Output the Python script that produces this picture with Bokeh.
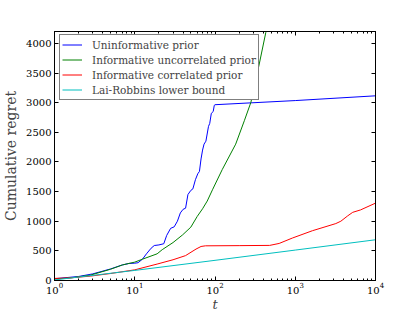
from bokeh.plotting import figure
from bokeh.models import Range1d, LinearAxis, Legend, LegendItem, FixedTicker, LogTicker, CustomJSTickFormatter
from bokeh.embed import file_html
from bokeh.resources import INLINE

# ---- data ----
t_blue = [1, 2, 3, 5, 7, 8.5, 10, 11, 12.5, 14, 16, 17.5, 20, 23, 25, 28, 31, 34, 37, 40, 43,
          46, 50, 53, 57, 61, 64, 67, 70, 73, 77, 83, 86, 90, 95, 98, 100, 1000, 10000]
v_blue = [30, 68, 112, 195, 262, 288, 292, 300, 361, 450, 545, 590, 600, 620, 760, 880, 905,
          1000, 1140, 1200, 1220, 1450, 1520, 1545, 1700, 1800, 1840, 2050, 2200, 2300, 2350,
          2600, 2650, 2820, 2850, 2955, 2965, 3035, 3115]

t_green = [1, 1.6, 2.8, 5, 7, 10, 12.5, 19, 22, 30, 39.5, 50, 60, 70, 80, 93, 123, 181, 232,
           280, 356, 430, 500]
v_green = [25, 45, 90, 190, 262, 310, 360, 450, 520, 640, 770, 900, 1080, 1210, 1340, 1530,
           1870, 2300, 2695, 3004, 3652, 4186, 4700]

t_red = [1, 1.6, 2.8, 5, 10, 19, 30, 43, 58, 67, 76, 200, 480, 630, 920, 1640, 3200, 3700,
         4500, 5200, 6500, 10000]
v_red = [35, 45, 74, 118, 180, 277, 350, 420, 530, 574, 585, 588, 592, 625, 716, 840, 960,
         1000, 1090, 1150, 1190, 1305]

t_cyan = [1, 10, 100, 1000, 10000]
v_cyan = [10, 170, 340, 513, 687]

labels = ["Uninformative prior", "Informative uncorrelated prior",
          "Informative correlated prior", "Lai-Robbins lower bound"]
colors = ["#0000ff", "#008000", "#ff0000", "#00bfbf"]

y_ticks = [0, 500, 1000, 1500, 2000, 2500, 3000, 3500, 4000]

FONT = "DejaVu Serif"

p = figure(frame_width=321, frame_height=249, x_axis_type="log", output_backend="svg",
           toolbar_location=None, x_range=Range1d(1, 10000), y_range=Range1d(0, 4200),
           min_border_left=44, min_border_right=30, min_border_top=31, min_border_bottom=24)
p.grid.visible = False
p.outline_line_color = "black"
p.background_fill_color = "white"
p.border_fill_color = "white"

series = [(t_blue, v_blue), (t_green, v_green), (t_red, v_red), (t_cyan, v_cyan)]
renderers = []
for (tx, vy), c in zip(series, colors):
    renderers.append(p.line(tx, vy, line_color=c, line_width=1))

def style_axis(ax, log=False):
    ax.axis_line_color = "black"
    ax.major_tick_in = 4
    ax.major_tick_out = 0
    ax.major_tick_line_color = "black"
    ax.major_label_text_font = FONT
    ax.major_label_text_font_size = "10px"
    ax.major_label_text_color = "black"
    ax.major_label_standoff = 3
    if log:
        ax.minor_tick_in = 2
        ax.minor_tick_out = 0
        ax.minor_tick_line_color = "black"
    else:
        ax.minor_tick_line_color = None

xa = p.xaxis[0]
style_axis(xa, True)
xa.ticker = LogTicker(num_minor_ticks=10)
xa.axis_label = "t"
xa.axis_label_text_font = FONT
xa.axis_label_text_font_style = "italic"
xa.axis_label_text_font_size = "13px"
xa.axis_label_standoff = 0
xa.major_label_standoff = 2

ya = p.yaxis[0]
style_axis(ya, False)
ya.ticker = FixedTicker(ticks=y_ticks)
ya.axis_label = "Cumulative regret"
ya.axis_label_text_font = FONT
ya.axis_label_text_font_style = "normal"
ya.axis_label_text_font_size = "14px"
ya.axis_label_standoff = 4

blank = CustomJSTickFormatter(code="return '';")
ra = LinearAxis(ticker=FixedTicker(ticks=y_ticks), formatter=blank)
style_axis(ra, False)
ra.major_label_standoff = 0
p.add_layout(ra, "right")

ta = LinearAxis(ticker=LogTicker(num_minor_ticks=10), formatter=blank)
style_axis(ta, True)
ta.major_label_standoff = 0
p.add_layout(ta, "above")

items = [LegendItem(label=l, renderers=[r]) for l, r in zip(labels, renderers)]
legend = Legend(items=items, location=(5, 180))
legend.label_text_font = FONT
legend.label_text_font_size = "10.5px"
legend.label_height = 15
legend.glyph_height = 15
legend.glyph_width = 20
legend.label_standoff = 10
legend.spacing = 0
legend.padding = 2
legend.margin = 0
legend.border_line_color = "black"
legend.border_line_width = 1
legend.background_fill_alpha = 1
p.add_layout(legend, "center")

open("out.html", "w").write(file_html(p, INLINE))
